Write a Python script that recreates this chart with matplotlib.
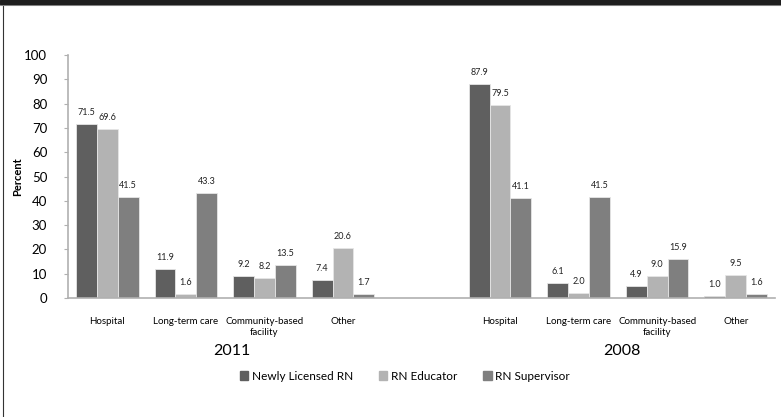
import matplotlib
matplotlib.use("Agg")
import matplotlib.pyplot as plt
import matplotlib.transforms as mtransforms
from matplotlib.patches import Rectangle
from matplotlib.lines import Line2D
import numpy as np

plt.rcParams['font.family'] = ['Lato', 'DejaVu Sans']

categories = ["Hospital", "Long-term care", "Community-based\nfacility", "Other"]
years = ["2011", "2008"]
series = ["Newly Licensed RN", "RN Educator", "RN Supervisor"]
values_2011 = {
    "Newly Licensed RN": [71.5, 11.9, 9.2, 7.4],
    "RN Educator": [69.6, 1.6, 8.2, 20.6],
    "RN Supervisor": [41.5, 43.3, 13.5, 1.7],
}
values_2008 = {
    "Newly Licensed RN": [87.9, 6.1, 4.9, 1.0],
    "RN Educator": [79.5, 2.0, 9.0, 9.5],
    "RN Supervisor": [41.1, 41.5, 15.9, 1.6],
}
colors = ["#5f5f5f", "#b3b3b3", "#7f7f7f"]
yticks = list(range(0, 101, 10))

fig = plt.figure(figsize=(7.81, 4.17), dpi=100)
W, H = 781, 417
ax = fig.add_axes([68 / W, 1 - 298 / H, (775 - 68) / W, (298 - 55) / H])

n = len(categories)
pos_2011 = np.arange(n)
pos_2008 = np.arange(n) + n + 1
bw = 0.265
for i, s in enumerate(series):
    for pos, vals in ((pos_2011, values_2011[s]), (pos_2008, values_2008[s])):
        x = pos + (i - 1) * bw
        ax.bar(x, vals, width=bw, color=colors[i], edgecolor="#e6e6e6", linewidth=0.6, zorder=2)
        for xi, v in zip(x, vals):
            ax.annotate(f"{v:.1f}", (xi, v), xytext=(0, 5), textcoords="offset points",
                        ha="center", va="bottom", fontsize=6.5, color="#222222")

ax.set_xlim(-0.5, 2 * n + 0.5)
ax.set_ylim(0, 100)
ax.set_yticks(yticks)
ax.set_yticklabels([str(t) for t in yticks], fontsize=9.5)
ax.set_ylabel("Percent", fontsize=8, fontweight="bold")
ax.yaxis.set_label_coords(-0.063, 0.5)
ax.tick_params(axis="y", length=3, color="#b0b0b0", pad=12)
ax.set_xticks(list(pos_2011) + list(pos_2008))
ax.set_xticklabels(categories + categories, fontsize=7, va="top", linespacing=1.2)
ax.tick_params(axis="x", length=0, pad=14)
for sp in ("top", "right"):
    ax.spines[sp].set_visible(False)
for sp in ("left", "bottom"):
    ax.spines[sp].set_color("#b0b0b0")
    ax.spines[sp].set_linewidth(1.2)

trans = mtransforms.blended_transform_factory(ax.transData, fig.transFigure)
ax.text(pos_2011.mean() + 0.08, 1 - 351 / H, years[0], transform=trans, ha="center", va="center", fontsize=11.5)
ax.text(pos_2008.mean() + 0.05, 1 - 351 / H, years[1], transform=trans, ha="center", va="center", fontsize=11.5)

handles = [Rectangle((0, 0), 1, 1, color=c) for c in colors]
fig.legend(handles, series, loc="center", bbox_to_anchor=(405 / W, 1 - 376 / H), ncol=3,
           frameon=False, fontsize=8.5, handlelength=0.7, handleheight=0.7, handletextpad=0.3,
           columnspacing=2.2)

# frame decorations
fig.patches.append(Rectangle((0, 1 - 4 / H), 1, 4 / H, transform=fig.transFigure,
                             color="#1e1e1e", zorder=10))
fig.lines.append(Line2D([2.5 / W, 2.5 / W], [0, 1 - 4 / H], transform=fig.transFigure,
                        color="#333333", linewidth=0.8))
fig.lines.append(Line2D([0, 1], [1 - 4.5 / H, 1 - 4.5 / H], transform=fig.transFigure,
                        color="#999999", linewidth=0.8))

fig.savefig("out.png", dpi=100)
